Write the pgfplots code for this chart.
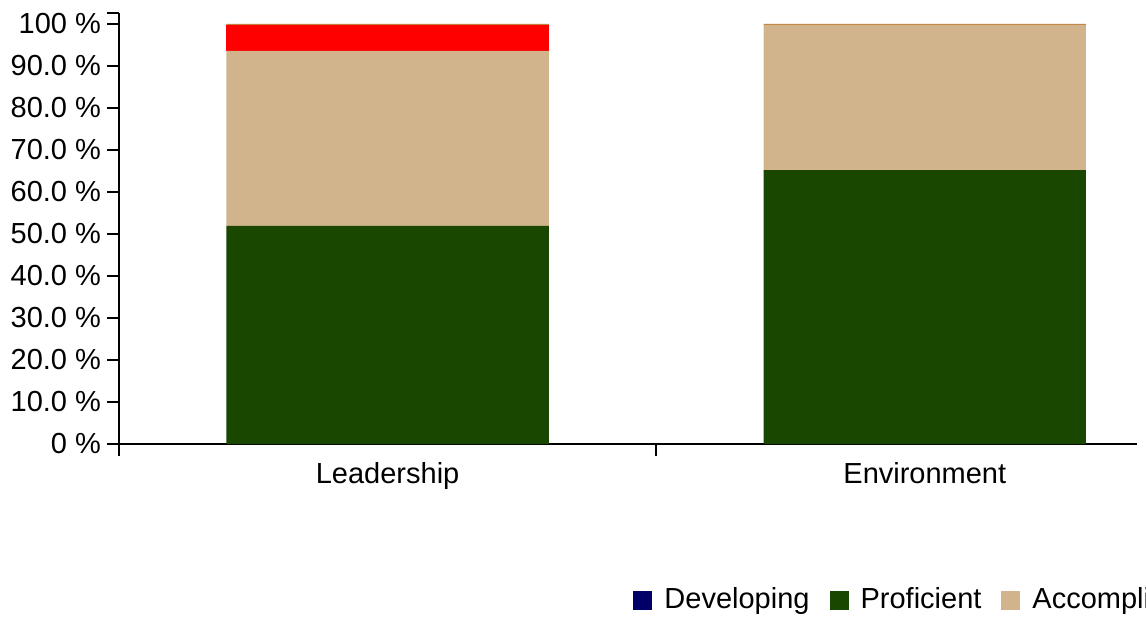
\documentclass[border=0pt]{standalone}
\usepackage{pgfplots}
\pgfplotsset{compat=1.18}
\usepackage{fontspec}
\setmainfont{Liberation Sans}
\definecolor{cDev}{HTML}{000066}
\definecolor{cProf}{HTML}{194700}
\definecolor{cAcc}{HTML}{D2B48C}
\definecolor{cRed}{HTML}{FF0000}
\definecolor{cOr}{HTML}{C0823C}
\begin{document}
\fontsize{14.5pt}{17pt}\selectfont
\begin{tikzpicture}
\begin{axis}[
  at={(0,0)}, anchor=south west,
  scale only axis,
  width=509pt, height=215.5pt,
  xmin=-0.5, xmax=1.395, ymin=0, ymax=102.6,
  ybar stacked, bar width=0.6,
  axis x line*=bottom, axis y line*=left,
  axis line style={line width=1pt, black},
  tick align=outside,
  major tick length=6pt,
  tick style={line width=1pt, black},
  xtick={-0.5,0.5}, xticklabels={},
  extra x ticks={0,1}, extra x tick labels={Leadership, Environment},
  extra x tick style={major tick length=0pt, tick style={draw=none}},
  xticklabel style={font=\fontsize{14.5pt}{17pt}\selectfont, yshift=-4pt},
  ytick={0,10,20,30,40,50,60,70,80,90,100,102.6},
  yticklabels={0 \%,10.0 \%,20.0 \%,30.0 \%,40.0 \%,50.0 \%,60.0 \%,70.0 \%,80.0 \%,90.0 \%,100 \%,},
  yticklabel style={font=\fontsize{14.5pt}{17pt}\selectfont, xshift=2pt},
  /pgf/number format/assume math mode=true,
  legend style={at={(0.505,-0.362)}, anchor=west, draw=none, fill=none,
    legend columns=-1, font=\fontsize{14.5pt}{17pt}\selectfont,
    /tikz/every even column/.append style={column sep=8pt}, inner sep=0pt},
  legend image code/.code={\fill[#1] (0pt,-4.75pt) rectangle (9.5pt,4.75pt); \path (13.5pt,0pt);},
  clip=false,
]
\addplot[fill=cDev, draw=none] coordinates {(0,0) (1,0)};
\addplot[fill=cProf, draw=none] coordinates {(0,51.9) (1,65.2)};
\addplot[fill=cAcc, draw=none] coordinates {(0,41.7) (1,34.6)};
\addplot[fill=cRed, draw=none] coordinates {(0,6.2) (1,0)};
\addplot[fill=cOr, draw=none] coordinates {(0,0.2) (1,0.2)};
\legend{Developing, Proficient, Accomplished, Unsatisfactory, Distinguished}
\end{axis}
\pgfresetboundingbox
\path (-59.5pt,-86.5pt) rectangle (513.5pt,222pt);
\end{tikzpicture}
\end{document}
